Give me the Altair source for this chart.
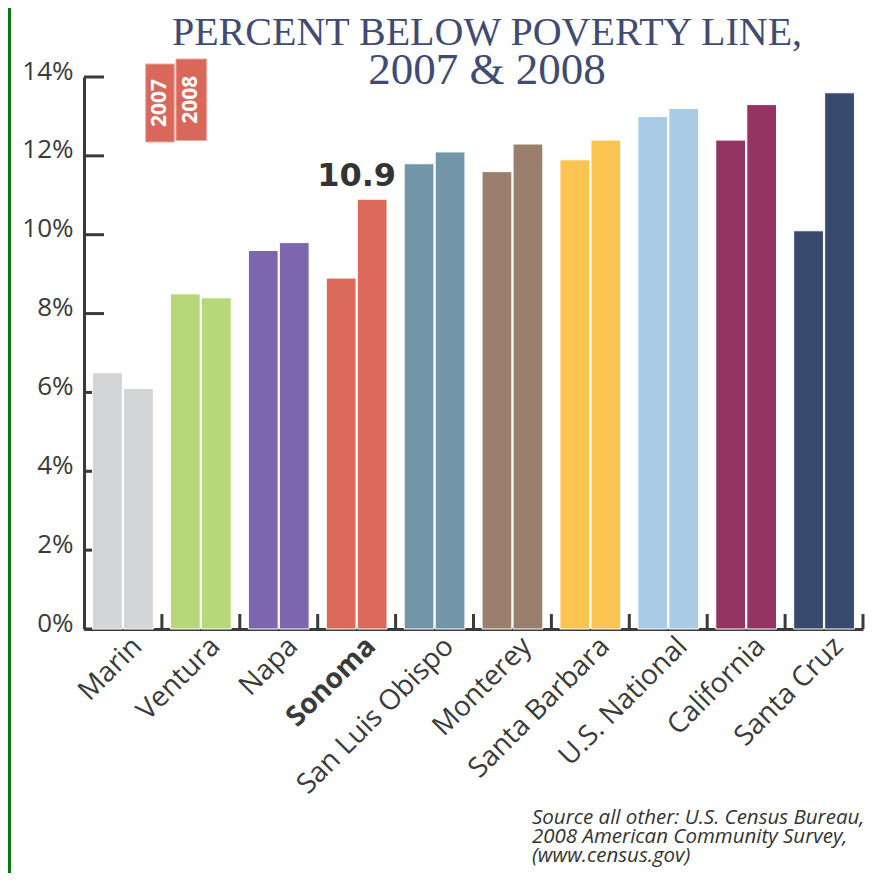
import altair as alt
import pandas as pd

# ---- data ----
counties = ["Marin", "Ventura", "Napa", "Sonoma", "San Luis Obispo", "Monterey",
            "Santa Barbara", "U.S. National", "California", "Santa Cruz"]
colors = ["#d3d4d6", "#b7d878", "#7d66ad", "#db6a5a", "#7295a8", "#9a7f6d",
          "#fbc350", "#a9cbe5", "#943463", "#384b6e"]
years = ["2007", "2008"]
pct_2007 = [6.5, 8.5, 9.6, 8.9, 11.8, 11.6, 11.9, 13.0, 12.4, 10.1]
pct_2008 = [6.1, 8.4, 9.8, 10.9, 12.1, 12.3, 12.4, 13.2, 13.3, 13.6]
y_ticks = [0, 2, 4, 6, 8, 10, 12, 14]
highlight = "Sonoma"
title_line1 = "PERCENT BELOW POVERTY LINE,"
title_line2 = "2007 & 2008"
source_lines = ["Source all other: U.S. Census Bureau,",
                "2008 American Community Survey,",
                "(www.census.gov)"]

rows = []
for c, a, b in zip(counties, pct_2007, pct_2008):
    rows.append({"county": c, "year": years[0], "value": a})
    rows.append({"county": c, "year": years[1], "value": b})
df = pd.DataFrame(rows)
df_ticks = pd.DataFrame({"value": y_ticks})
df_counties = pd.DataFrame({"county": counties})
df_hl = df[(df.county == highlight) & (df.year == years[1])]

W, H = 779, 552
AX = "#3a3a3a"
PAD_I = 0.22
STEP = W / len(counties)

xscale = alt.Scale(domain=counties, paddingInner=PAD_I, paddingOuter=PAD_I / 2)
yscale = alt.Scale(domain=[0, 14], nice=False)

x_axis = alt.Axis(labelAngle=-45, labelFont="Open Sans", labelFontSize=28,
                  labelColor=AX, labelPadding=3, labelOffset=5, labelLimit=0,
                  ticks=False, domainColor=AX, domainWidth=3,
                  labelFontWeight={"condition": {"test": "datum.value === 'Sonoma'",
                                                 "value": "bold"},
                                   "value": "normal"})
y_axis = alt.Axis(values=y_ticks, labelExpr="datum.value + '%'", ticks=False,
                  grid=False, domainColor=AX, domainWidth=3,
                  labelFont="Open Sans", labelFontSize=26, labelColor=AX,
                  labelPadding=11, labelBaseline="alphabetic", labelOffset=2)

X = alt.X("county:N", scale=xscale, sort=counties, title=None, axis=x_axis)
Y = alt.Y("value:Q", scale=yscale, title=None, axis=y_axis)

# inward y ticks (under the bars)
ytick_layer = alt.Chart(df_ticks).mark_rule(color=AX, strokeWidth=3).encode(
    y=Y, x=alt.value(0), x2=alt.value(20),
)

# upward x ticks at the group boundaries
xtick_layer = alt.Chart(df_counties).mark_rule(
    color=AX, strokeWidth=3, xOffset=STEP * PAD_I / 2).encode(
    x=alt.X("county:N", scale=xscale, sort=counties, title=None, axis=x_axis,
            bandPosition=1),
    y=alt.value(H), y2=alt.value(H - 15),
)

bars = alt.Chart(df).mark_bar(stroke="white", strokeWidth=1).encode(
    x=X,
    xOffset=alt.XOffset("year:N", scale=alt.Scale(paddingInner=0.04)),
    y=Y,
    color=alt.Color("county:N", scale=alt.Scale(domain=counties, range=colors), legend=None),
)

annot = alt.Chart(df_hl).mark_text(font="DejaVu Sans", fontWeight="bold", fontSize=32,
                                   color="#333333", dy=-13, baseline="alphabetic",
                                   align="center").encode(
    x=X, y=Y,
    text=alt.Text("value:Q", format=".1f"),
)

title1 = alt.Chart(pd.DataFrame({"t": [title_line1]})).mark_text(
    font="Liberation Serif", fontSize=40, color="#3f4b73", align="center",
    baseline="alphabetic").encode(text="t:N", x=alt.value(403), y=alt.value(-32))
title2 = alt.Chart(pd.DataFrame({"t": [title_line2]})).mark_text(
    font="Liberation Serif", fontSize=45, color="#3f4b73", align="center",
    baseline="alphabetic").encode(text="t:N", x=alt.value(403), y=alt.value(7))

# year key boxes
key_layers = []
key_boxes = [(61.7, 90.3, -13, 65), (92, 122.7, -18, 63.5)]
for yr, (x1, x2, y1, y2) in zip(years, key_boxes):
    key_layers.append(alt.Chart(pd.DataFrame({"t": [yr]})).mark_rect(
        color="#d9685a", stroke="#f0a89e", strokeWidth=1).encode(
        x=alt.value(x1), x2=alt.value(x2), y=alt.value(y1), y2=alt.value(y2)))
    key_layers.append(alt.Chart(pd.DataFrame({"t": [yr]})).mark_text(
        font="Open Sans", fontWeight="bold", fontSize=21, color="white", angle=270,
        align="center", baseline="middle").encode(
        text="t:N", x=alt.value((x1 + x2) / 2), y=alt.value((y1 + y2) / 2)))

source = alt.Chart(pd.DataFrame({"t": ["src"]})).mark_text(
    font="Open Sans", fontStyle="italic", fontSize=20.5, lineHeight=19,
    color="#333333", align="left", baseline="alphabetic").encode(
    x=alt.value(448), y=alt.value(747), text=alt.value(source_lines))

green = alt.Chart(pd.DataFrame({"t": ["g"]})).mark_rect(color="#0a780a").encode(
    x=alt.value(-76), x2=alt.value(-73), y=alt.value(-69), y2=alt.value(796))

chart = alt.layer(
    green, ytick_layer, xtick_layer, bars, annot, title1, title2, *key_layers, source
).properties(
    width=W, height=H,
    autosize=alt.AutoSizeParams(type="none"),
    padding={"left": 76, "top": 69, "right": 6, "bottom": 244},
    background="white",
).configure_view(stroke=None)

chart.save("out.html", embed_options={"renderer": "svg", "actions": False})
